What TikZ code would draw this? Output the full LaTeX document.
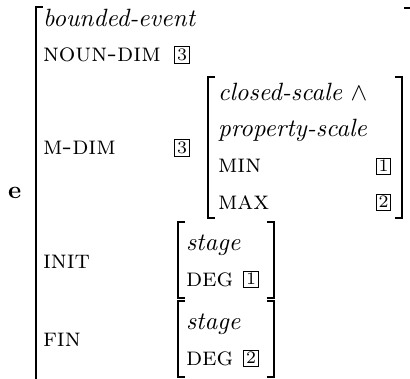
\documentclass[tikz,border=0pt]{standalone}
\begin{document}
\begin{tikzpicture}[x=0.4pt,y=-0.4pt,
  txt/.style={anchor=base west,inner sep=0pt,outer sep=0pt},
  feat/.style={txt,font=\fontsize{10.4}{12.5}\selectfont\scshape},
  tag/.style={draw,line width=0.35pt,inner sep=0.9pt,font=\scriptsize},
  brk/.style={line width=0.6pt}]
\useasboundingbox (0,0) rectangle (410,378);
\begin{scope}
\clip (0,0) rectangle (410,378);

% outer matrix brackets
\draw[brk] (43,7) -- (36,7) -- (36,395) -- (43,395);
\draw[brk] (404,8) -- (412,8) -- (412,395);

% M-DIM value brackets
\draw[brk] (215,77) -- (208,77) -- (208,218) -- (215,218);
\draw[brk] (395,77) -- (402,77) -- (402,218) -- (395,218);

% INIT value brackets
\draw[brk] (185,222) -- (178,222) -- (178,298) -- (185,298);
\draw[brk] (267,222) -- (274,222) -- (274,298) -- (267,298);

% FIN value brackets
\draw[brk] (185,301) -- (178,301) -- (178,377) -- (185,377);
\draw[brk] (267,301) -- (274,301) -- (274,377) -- (267,377);
\end{scope}

\node[txt] (e) at (8,198) {\textbf{e}};

\node[txt] (type) at (43,27) {\textit{bounded-event}};
\node[feat] (noundim) at (43,62) {noun-dim};
\node[tag] (tagA) at (182,55) {3};

\node[feat] (mdim) at (43,155) {m-dim};
\node[tag] (tagB) at (182,148) {3};

\node[txt] (scA) at (218,101) {\textit{closed-scale} $\wedge$};
\node[txt] (scB) at (218,137) {\textit{property-scale}};
\node[feat] (min) at (218,173) {min};
\node[tag] (tagC) at (383.5,166) {1};
\node[feat] (max) at (218,209) {max};
\node[tag] (tagD) at (383.5,202) {2};

\node[feat] (init) at (43,268) {init};
\node[txt] (stA) at (186,250) {\textit{stage}};
\node[feat] (degA) at (186,286) {deg};
\node[tag] (tagE) at (251,279) {1};

\node[feat] (fin) at (43,346) {fin};
\node[txt] (stB) at (186,329) {\textit{stage}};
\node[feat] (degB) at (186,365) {deg};
\node[tag] (tagF) at (251,358) {2};
\end{tikzpicture}
\end{document}
